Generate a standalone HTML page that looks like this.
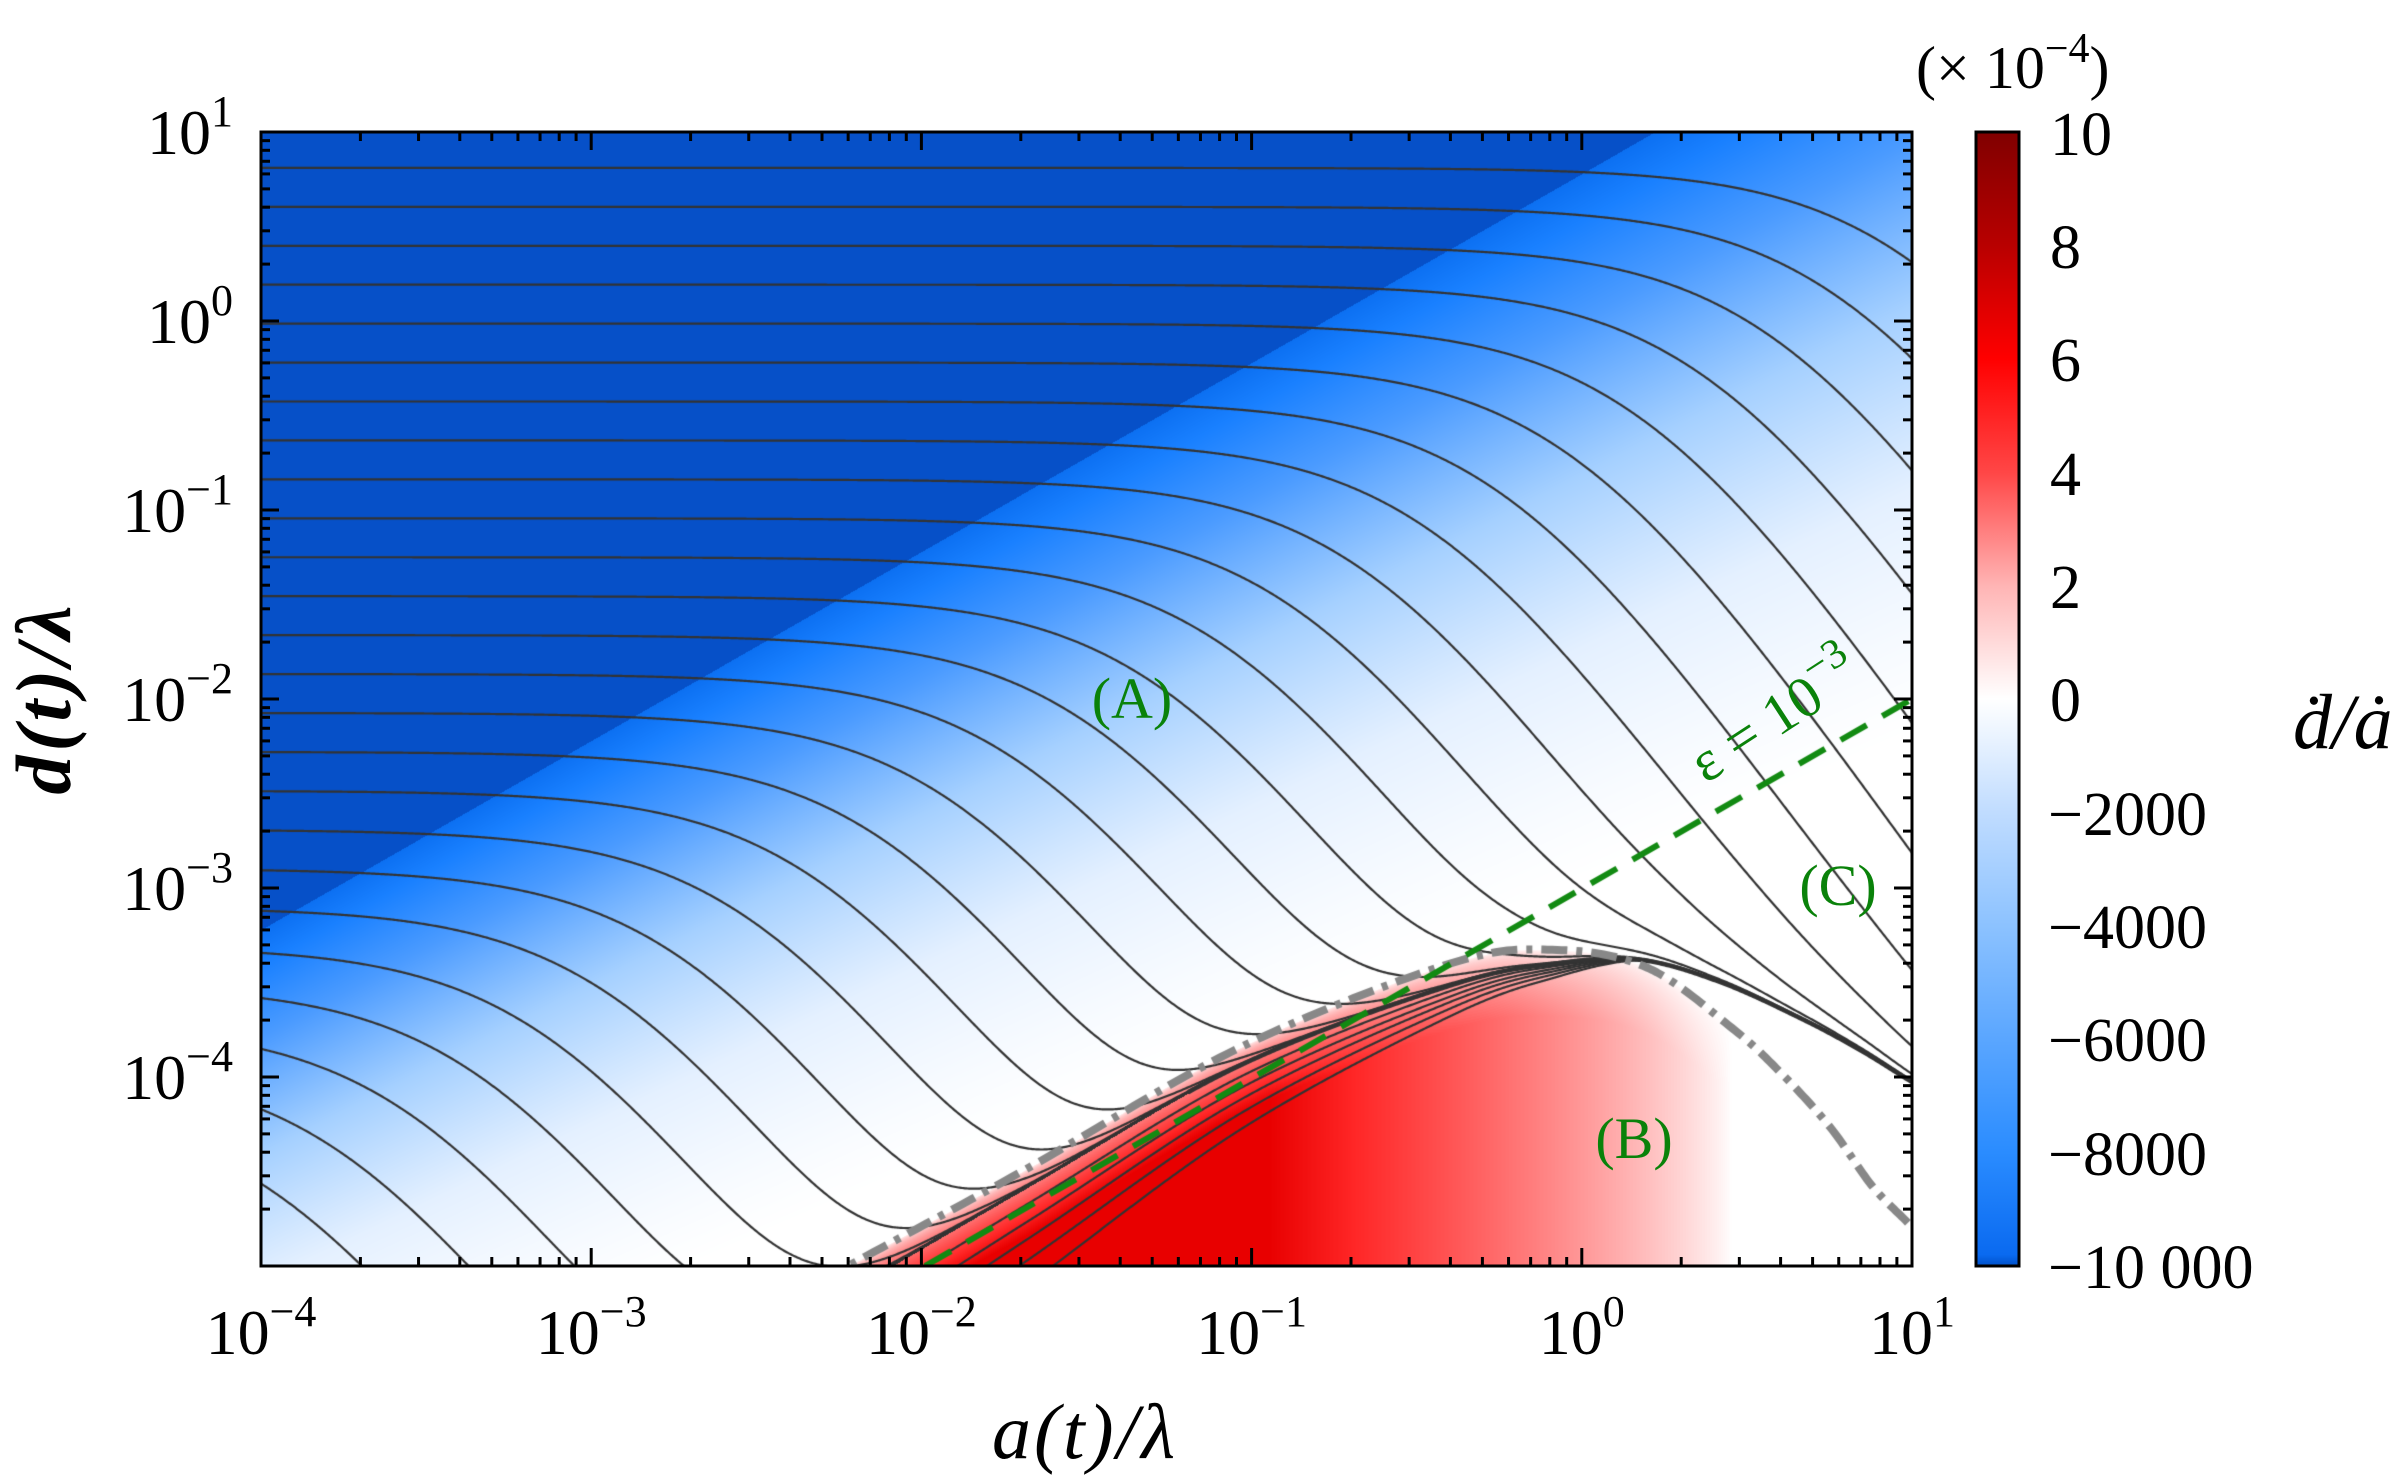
<!DOCTYPE html>
<html><head><meta charset="utf-8"><style>
html,body{margin:0;padding:0;background:#fff;}
#w{position:relative;width:2406px;height:1478px;overflow:hidden;background:#fff;}
canvas,svg{position:absolute;left:0;top:0;}
text{font-family:"Liberation Serif",serif;fill:#000;}
</style></head><body><div id="w">
<canvas id="c" width="2406" height="1478"></canvas>
<svg id="s" width="2406" height="1478" xmlns="http://www.w3.org/2000/svg">
<defs><linearGradient id="cb" x1="0" y1="1" x2="0" y2="0">
<stop offset="0" stop-color="#0050c8"/><stop offset="0.01" stop-color="#0a6af0"/>
<stop offset="0.1" stop-color="#2a8cff"/><stop offset="0.2" stop-color="#5aa6ff"/>
<stop offset="0.3" stop-color="#8cc2ff"/><stop offset="0.4" stop-color="#c0dcff"/>
<stop offset="0.5" stop-color="#ffffff"/><stop offset="0.6" stop-color="#ffb4b4"/>
<stop offset="0.7" stop-color="#ff4646"/><stop offset="0.8" stop-color="#ff0000"/>
<stop offset="0.9" stop-color="#b80000"/><stop offset="1" stop-color="#800000"/>
</linearGradient></defs>
<g id="ax"></g>
<rect x="1976" y="132" width="43" height="1134" fill="url(#cb)" stroke="#000" stroke-width="3"/>
<g font-size="62">
<text x="2050" y="155">10</text><text x="2050" y="268">8</text><text x="2050" y="381">6</text>
<text x="2050" y="495">4</text><text x="2050" y="608">2</text><text x="2050" y="721">0</text>
<text x="2048" y="835">−2000</text><text x="2048" y="948">−4000</text><text x="2048" y="1061">−6000</text>
<text x="2048" y="1175">−8000</text><text x="2048" y="1288">−10 000</text>
</g>
<text x="1916" y="88" font-size="60">(× 10<tspan dy="-26" font-size="42">−4</tspan><tspan dy="26">)</tspan></text>
<text x="2293" y="748" font-size="78" font-style="italic">ḋ/ȧ</text>
<text x="1085" y="1458" font-size="78" font-style="italic" text-anchor="middle" letter-spacing="3">a(t)/λ</text>
<text transform="translate(70,698) rotate(-90)" font-size="78" font-style="italic" font-weight="bold" text-anchor="middle" letter-spacing="4">d(t)/λ</text>
<g font-size="58">
<text x="1132" y="718" text-anchor="middle" style="fill:#0a820a">(A)</text>
<text x="1634" y="1158" text-anchor="middle" style="fill:#0a820a">(B)</text>
<text x="1838" y="905" text-anchor="middle" style="fill:#0a820a">(C)</text>
<text transform="translate(1706,784) rotate(-33)" style="fill:#0a820a" font-size="58">ε = 10<tspan dy="-26" font-size="42">−3</tspan></text>
</g>
</svg>
</div>
<script>
var L=261,R=1912,T=132,B=1266,DX=330.2,DY=189;
function X2p(X){return L+(X+4)*DX;}function Y2p(Y){return T+(1-Y)*DY;}
function p2X(p){return (p-L)/DX-4;}function p2Y(p){return 1-(p-T)/DY;}
function smooth(P){var out=[];for(var i=0;i<P.length-1;i++){var p0=P[Math.max(0,i-1)],p1=P[i],p2=P[i+1],p3=P[Math.min(P.length-1,i+2)];
for(var s=0;s<20;s++){var t=s/20,t2=t*t,t3=t2*t;var f=function(a,b,c,d){return 0.5*((2*b)+(-a+c)*t+(2*a-5*b+4*c-d)*t2+(-a+3*b-3*c+d)*t3);};
out.push([f(p0[0],p1[0],p2[0],p3[0]),f(p0[1],p1[1],p2[1],p3[1])]);}}out.push(P[P.length-1]);return out;}
function mk(pts){return smooth(pts).map(function(q){return [p2X(q[0]),p2Y(q[1])];});}
var Graw=[[600,1400],[700,1347],[848,1266],[1030,1167],[1241,1047],[1452,963],[1557,950],[1648,968],[1732,1028],[1781,1073],[1830,1127],[1873,1187],[1912,1227],[1960,1280]];
var G=mk(Graw);
var E=mk([[600,1425],[700,1370],[848,1290],[1030,1185],[1241,1065],[1452,985],[1560,963],[1641,960],[1720,982],[1800,1018],[1860,1050],[1912,1082],[1960,1110]]);
function interp(A,X){if(X<=A[0][0])return A[0][1]+(X-A[0][0])*(A[1][1]-A[0][1])/(A[1][0]-A[0][0]);
for(var i=1;i<A.length;i++){if(X<=A[i][0]){var d=A[i][0]-A[i-1][0];if(d<=0)return A[i][1];var t=(X-A[i-1][0])/d;return A[i-1][1]+t*(A[i][1]-A[i-1][1]);}}return A[A.length-1][1];}
var c=document.getElementById('c'),ctx=c.getContext('2d');
var W=R-L,H=B-T,img=ctx.createImageData(W,H),D=img.data;
var bs=[[0,255,255,255],[0.25,228,240,255],[0.5,165,208,255],[0.75,75,155,255],[0.92,25,128,255],[1,12,112,242]];
var gcol=[];for(var px=0;px<W;px++){gcol.push(interp(G,p2X(px+L)));}
for(var py=0;py<H;py++){var Y=p2Y(py+T);for(var px=0;px<W;px++){var X=p2X(px+L),r,g,b;
var gy=gcol[px];
if(Y<gy){var dep=Math.min(1,(gy-Y)/0.35);dep=Math.sqrt(dep);
var I=Math.max(0,Math.min(1,(0.45-X)/1.4));I=Math.pow(I,0.8)*dep;
r=255-(I>0.85?(I-0.85)*150:0);g=255*(1-I);b=255*(1-I);}
else{var yd=X+0.78;if(Y>yd){r=6;g=80;b=200;}else{var w=-2.2+0.76*(X-1);var t=Math.max(0,Math.min(1,(Y-w)/(yd-w)));t=Math.pow(t,1.25);
for(var k=1;k<bs.length;k++){if(t<=bs[k][0]){var f=(t-bs[k-1][0])/(bs[k][0]-bs[k-1][0]);r=bs[k-1][1]+f*(bs[k][1]-bs[k-1][1]);g=bs[k-1][2]+f*(bs[k][2]-bs[k-1][2]);b=bs[k-1][3]+f*(bs[k][3]-bs[k-1][3]);break;}}}}
var o=(py*W+px)*4;D[o]=r;D[o+1]=g;D[o+2]=b;D[o+3]=255;}}
ctx.putImageData(img,L,T);
ctx.save();ctx.beginPath();ctx.rect(L,T,W,H);ctx.clip();
ctx.strokeStyle='#333';ctx.lineWidth=2.2;ctx.lineJoin='round';
for(var k=0;k<46;k++){var Y0=0.81-0.206*k;ctx.beginPath();var st=false;
for(var X=-4;X<=1.001;X+=0.004){var d=Math.pow(10,Y0)*Math.pow(1+Math.pow(10,1.5*(X-Y0-0.2)),-1.7)+Math.pow(10,interp(E,X));
var Y=Math.log10(d);var x=X2p(X),y=Y2p(Y);if(!st){ctx.moveTo(x,y);st=true;}else ctx.lineTo(x,y);}
ctx.stroke();}
var Xp=0.18;[0.1,0.2,0.3,0.42,0.56].forEach(function(dl){ctx.beginPath();var st=false;
for(var X=-2.6;X<=1.001;X+=0.004){var Y=interp(E,X)-dl*Math.max(0,Xp-X)*0.5;var x=X2p(X),y=Y2p(Y);if(!st){ctx.moveTo(x,y);st=true;}else ctx.lineTo(x,y);}ctx.stroke();});
ctx.lineWidth=4.5;ctx.beginPath();for(var X=-1.2;X<=1.001;X+=0.004){var x=X2p(X),y=Y2p(interp(E,X));if(X<-1.19)ctx.moveTo(x,y);else ctx.lineTo(x,y);}ctx.stroke();
ctx.strokeStyle='#888';ctx.lineWidth=8;ctx.setLineDash([26,9,6,9]);ctx.beginPath();
var Gs=smooth(Graw);for(var i=0;i<Gs.length;i++){if(i==0)ctx.moveTo(Gs[i][0],Gs[i][1]);else ctx.lineTo(Gs[i][0],Gs[i][1]);}ctx.stroke();
ctx.strokeStyle='#128a12';ctx.lineWidth=6;ctx.setLineDash([30,18]);ctx.beginPath();ctx.moveTo(925,1266);ctx.lineTo(1912,699);ctx.stroke();
ctx.restore();
var ax=document.getElementById('ax');var s='';
s+='<rect x="261" y="132" width="1651" height="1134" fill="none" stroke="#000" stroke-width="3"/>';
for(var dd=-4;dd<=1;dd++){for(var m=1;m<10;m++){var X=dd+Math.log10(m);if(X>1.0001)break;var x=X2p(X),len=m==1?18:9;
s+='<line x1="'+x+'" y1="'+B+'" x2="'+x+'" y2="'+(B-len)+'" stroke="#000" stroke-width="3"/>';
s+='<line x1="'+x+'" y1="'+T+'" x2="'+x+'" y2="'+(T+len)+'" stroke="#000" stroke-width="3"/>';}}
for(var dd=-5;dd<=1;dd++){for(var m=1;m<10;m++){var Y=dd+Math.log10(m);if(Y>1.0001)break;var y=Y2p(Y),len=m==1?18:9;
s+='<line x1="'+L+'" y1="'+y+'" x2="'+(L+len)+'" y2="'+y+'" stroke="#000" stroke-width="3"/>';
s+='<line x1="'+R+'" y1="'+y+'" x2="'+(R-len)+'" y2="'+y+'" stroke="#000" stroke-width="3"/>';}}
var ex=['−4','−3','−2','−1','0','1'];
for(var i=0;i<6;i++){var x=X2p(i-4);s+='<text x="'+x+'" y="1354" font-size="64" text-anchor="middle">10<tspan dy="-28" font-size="44">'+ex[i]+'</tspan></text>';}
var ey={1:'1',0:'0','-1':'−1','-2':'−2','-3':'−3','-4':'−4'};
for(var v=1;v>=-4;v--){var y=Y2p(v);s+='<text x="233" y="'+(y+22)+'" font-size="64" text-anchor="end">10<tspan dy="-28" font-size="44">'+ey[v]+'</tspan></text>';}
for(var i=0;i<=10;i++){var y=132+i*113.4;s+='<line x1="2007" y1="'+y+'" x2="2019" y2="'+y+'" stroke="#000" stroke-width="2.5"/>';}
ax.innerHTML=s;
</script>
</body></html>
